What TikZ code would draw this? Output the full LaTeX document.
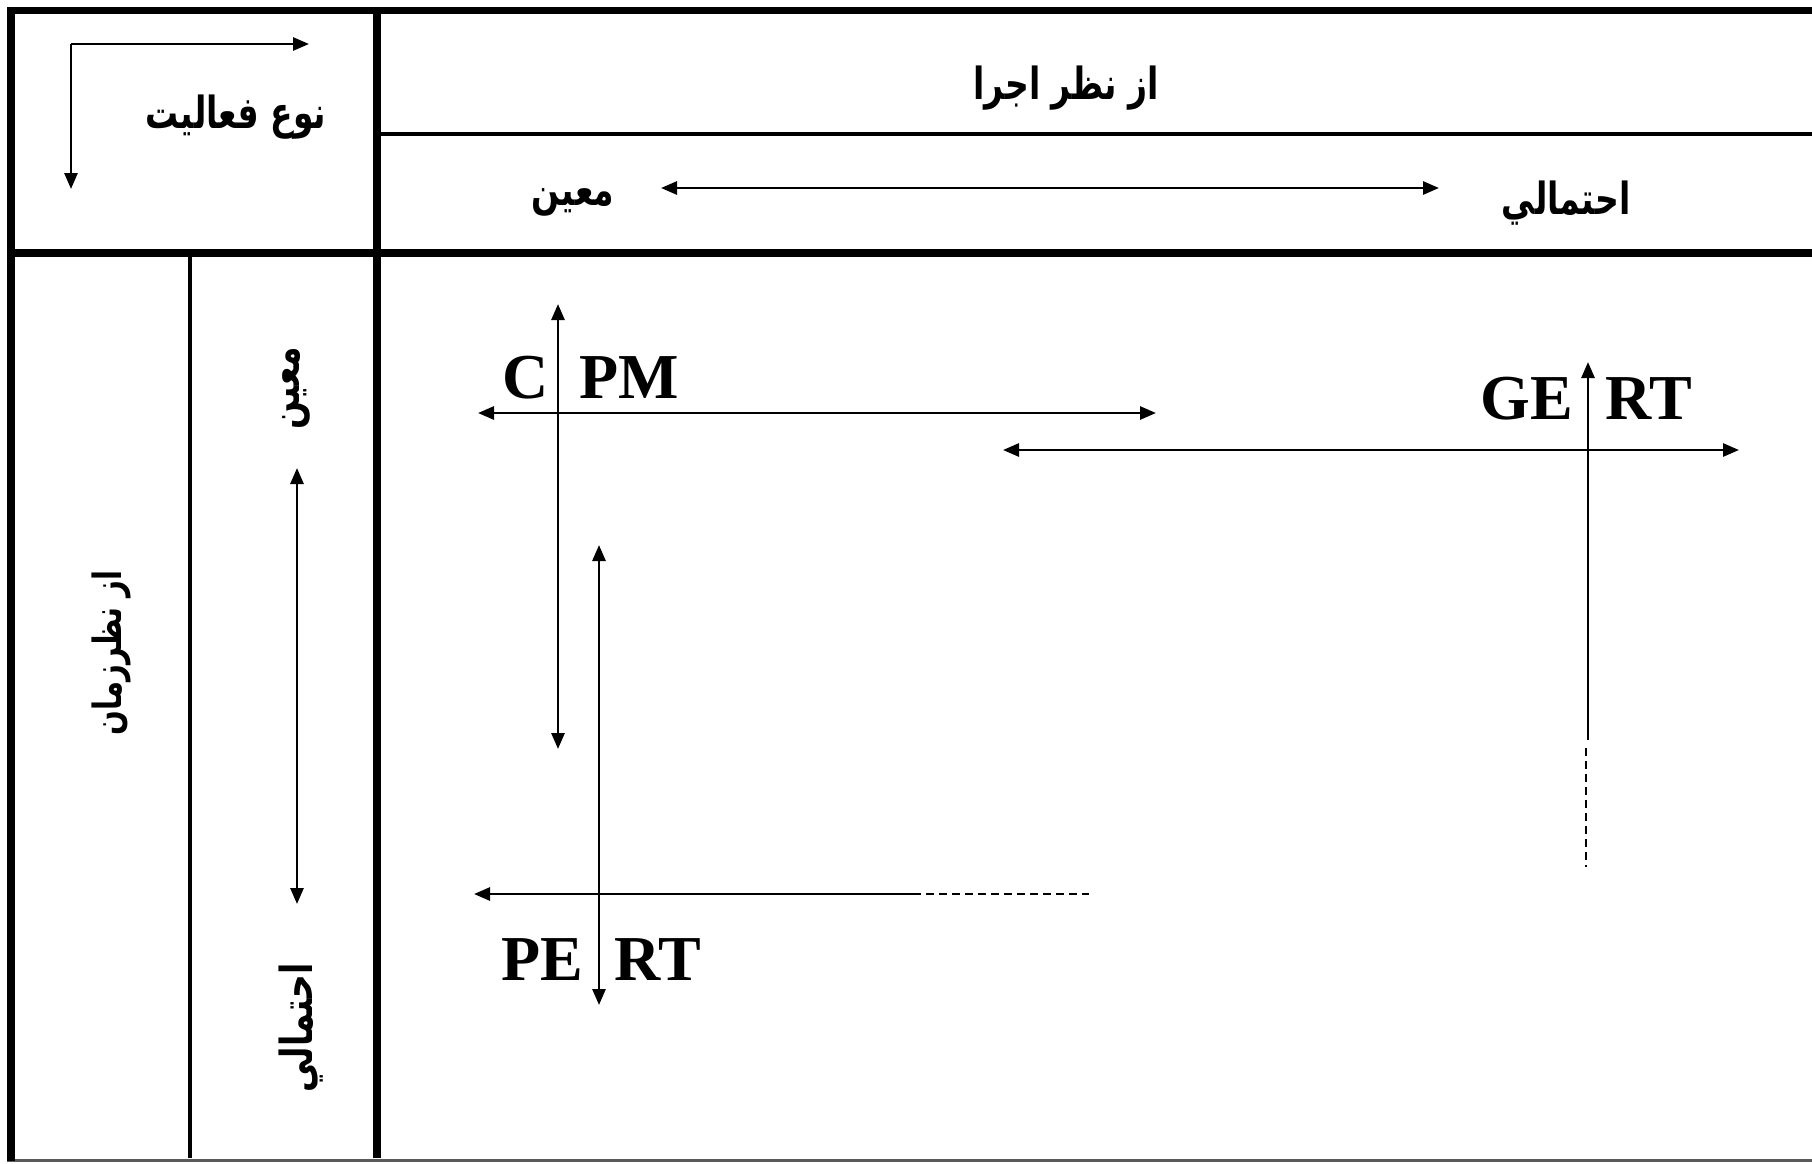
\documentclass[tikz,border=0pt]{standalone}
\usepackage{fontspec}
\usepackage{graphicx}
\setmainfont{Liberation Serif}
\newfontfamily\arabicfont[Script=Arabic]{DejaVu Sans}
\TeXXeTstate=1
\usetikzlibrary{arrows.meta}
% bold right-to-left label, set a little taller than the font's own shape
\newcommand{\fa}[1]{\scalebox{0.97}[1.3]{\arabicfont\bfseries\beginR #1\endR}}
\begin{document}
\begin{tikzpicture}[x=1pt,y=-1pt,
  thickrule/.style={line width=7.5pt},
  thinrule/.style={line width=4pt},
  axis/.style={line width=2.8pt,-{Triangle[length=16pt,width=13pt]}},
  twoway/.style={line width=2.8pt,{Triangle[length=16pt,width=13pt]}-{Triangle[length=16pt,width=13pt]}},
  dashline/.style={line width=2pt,dash pattern=on 8pt off 5pt},
  faLabel/.style={inner sep=0pt,font=\fontsize{34}{40}\selectfont},
  method/.style={inner sep=0pt,font=\fontsize{64}{70}\selectfont\bfseries}]
\useasboundingbox (0,0) rectangle (1812,1163);
% table frame
\draw[gray!70!black,line width=2.2pt] (7,1160.5) -- (1812,1160.5);
\draw[thickrule] (11,7) -- (11,1161);
\draw[thickrule] (7,10.5) -- (1812,10.5);
\draw[thickrule] (377,7) -- (377,1158);
\draw[thickrule] (7,253) -- (1812,253);
\draw[thinrule] (377,134) -- (1812,134);
\draw[thinrule] (190,253) -- (190,1158);
% header cell: axis corner
\coordinate (corner) at (71,44);
\coordinate (cornerR) at (309,44);
\coordinate (cornerD) at (71,189);
\draw[axis] (corner) -- (cornerR);
\draw[axis] (corner) -- (cornerD);
\node[faLabel] (kind) at (236,117) {\fa{نوع فعاليت}};
% execution header
\node[faLabel] (exec) at (1066,88) {\fa{از نظر اجرا}};
\node[faLabel] (execDet) at (573,202) {\fa{معين}};
\node[faLabel] (execProb) at (1566,203) {\fa{احتمالي}};
\coordinate (hA) at (661,188);
\coordinate (hB) at (1439,188);
\draw[twoway] (hA) -- (hB);
% time header
\node[faLabel,rotate=90,font=\fontsize{30}{36}\selectfont] (time) at (111,653) {\fa{از نظرزمان}};
\node[faLabel,rotate=90] (timeDet) at (296,388) {\fa{معين}};
\node[faLabel,rotate=90] (timeProb) at (301,1028) {\fa{احتمالي}};
\coordinate (vA) at (297,468);
\coordinate (vB) at (297,904);
\draw[twoway] (vA) -- (vB);
% CPM
\coordinate (cpmT) at (558,304);
\coordinate (cpmB) at (558,749);
\coordinate (cpmL) at (478,413);
\coordinate (cpmR) at (1156,413);
\draw[twoway] (cpmT) -- (cpmB);
\draw[twoway] (cpmL) -- (cpmR);
\node[method] (c) at (526,378) {C};
\node[method] (pm) at (629,378) {PM};
% GERT
\coordinate (gertL) at (1003,450);
\coordinate (gertR) at (1739,450);
\coordinate (gertT) at (1588,362);
\coordinate (gertB) at (1588,740);
\coordinate (gertD0) at (1586,748);
\coordinate (gertD) at (1586,867);
\draw[twoway] (gertL) -- (gertR);
\draw[axis] (gertB) -- (gertT);
\draw[dashline] (gertD0) -- (gertD);
\node[method] (ge) at (1527,399) {GE};
\node[method] (rt1) at (1649,399) {RT};
% PERT
\coordinate (pertT) at (599,545);
\coordinate (pertB) at (599,1005);
\coordinate (pertL) at (474,894);
\coordinate (pertM) at (913,894);
\coordinate (pertE) at (1089,894);
\draw[twoway] (pertT) -- (pertB);
\draw[axis] (pertM) -- (pertL);
\draw[dashline] (pertM) -- (pertE);
\node[method] (pe) at (542,960) {PE};
\node[method] (rt2) at (658,960) {RT};
\end{tikzpicture}
\end{document}
